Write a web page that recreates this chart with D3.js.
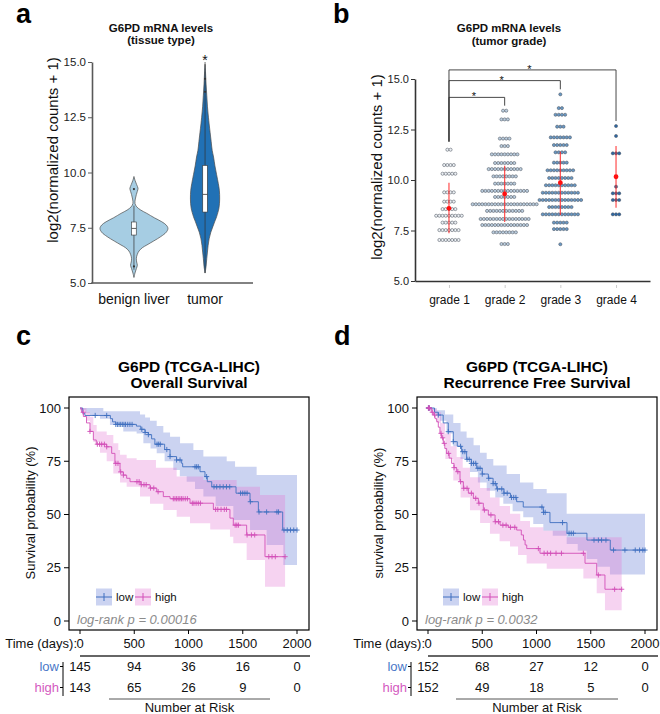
<!DOCTYPE html>
<html><head><meta charset="utf-8">
<script src="https://cdn.jsdelivr.net/npm/d3@7"></script>
<style>body{margin:0;background:#fff}</style>
</head><body>
<script>
// ================= DATA =================
// Panel a
const tissueCategories = ["benign liver", "tumor"];
const aTicks = [5, 7.5, 10, 12.5, 15];
// violin profiles: [log2 value, relative density]
const violinBenign = [[5.25,0],[5.45,0.03],[5.65,0.07],[5.8,0.1],[5.95,0.08],[6.12,0.07],[6.3,0.1],[6.45,0.15],[6.6,0.25],[6.72,0.38],[6.9,0.58],[7.1,0.79],[7.3,0.95],[7.47,1.0],[7.62,0.95],[7.77,0.82],[7.95,0.6],[8.15,0.38],[8.3,0.2],[8.45,0.08],[8.6,0.03],[8.8,0.04],[9.0,0.07],[9.15,0.1],[9.28,0.12],[9.45,0.08],[9.65,0.03],[9.82,0]];
const violinTumor = [[5.45,0],[5.75,0.03],[6.1,0.05],[6.4,0.07],[6.7,0.09],[7.0,0.12],[7.3,0.17],[7.55,0.23],[7.8,0.29],[8.0,0.34],[8.4,0.41],[8.8,0.43],[9.2,0.42],[9.5,0.39],[9.9,0.34],[10.3,0.29],[10.7,0.25],[11.0,0.21],[11.4,0.18],[11.8,0.15],[12.2,0.12],[12.5,0.1],[13.0,0.07],[13.5,0.05],[14.0,0.03],[14.5,0.015],[14.9,0]];
// [whisker low, q1, median, q3, whisker high]
const boxBenign = [5.6, 7.17, 7.47, 7.76, 8.5];
const boxTumor = [5.45, 8.21, 9.01, 10.32, 15.0];
const outBenign = [9.25, 5.75];
const outTumor = [14.24, 13.65];

// Panel b
const gradeCategories = ["grade 1", "grade 2", "grade 3", "grade 4"];
const bTicks = [5, 7.5, 10, 12.5, 15];
// [log2 value, number of samples in that bin]
const grade1Rows = [[11.5,2],[10.74,4],[10.31,5],[9.39,4],[8.93,4],[8.56,5],[8.23,9],[7.89,5],[7.52,7],[7.03,7]];
const grade2Rows = [[13.43,2],[13.0,3],[12.05,4],[11.68,3],[11.27,9],[10.84,7],[10.54,11],[10.18,8],[9.82,7],[9.46,15],[9.16,7],[8.8,21],[8.47,12],[8.07,16],[7.77,15],[7.41,8],[6.83,3]];
const grade3Rows = [[14.24,1],[13.56,2],[13.23,4],[12.64,3],[12.11,7],[11.73,5],[11.37,4],[10.86,5],[10.48,9],[10.1,8],[9.74,10],[9.37,12],[9.01,14],[8.66,8],[8.3,12],[7.89,5],[7.57,5],[6.82,1]];
const grade4Rows = [[12.67,1],[12.18,1],[11.32,3],[9.67,1],[9.34,3],[9.01,3],[8.3,3]];
const gradeMean = [8.6, 9.31, 9.87, 10.16];
const gradeLow = [7.36, 7.92, 8.27, 8.63];
const gradeHigh = [9.87, 10.71, 11.4, 11.68];
const comparisons = [["grade 1","grade 2"],["grade 1","grade 3"],["grade 1","grade 4"]];
const comparisonLabels = ["*", "*", "*"];

// Panels c/d (Kaplan-Meier)
const kmTimeTicks = [0, 500, 1000, 1500, 2000];
const kmSurvTicks = [0, 25, 50, 75, 100];
const groups = ["low", "high"];
// Overall survival
const osLowSteps = [[0,100],[25,97.5],[45,96.5],[280,95],[300,93.5],[330,92.3],[520,91.5],[560,90],[600,88.5],[630,87.5],[660,85.5],[690,83],[780,80.5],[830,77.2],[890,75.6],[937,74],[946,72.4],[1106,70.1],[1152,67.8],[1173,65.4],[1214,63],[1438,60],[1567,56],[1644,51.2],[1868,42.7]];
const osLowCensor = [140,246,330,345,360,375,390,405,420,440,460,480,570,600,630,710,725,740,800,830,890,922,1060,1075,1090,1167,1235,1260,1290,1320,1350,1380,1480,1500,1520,1540,1570,1650,1720,1815,1830,1880,1910,1940,1970,2000];
const osLowUpper = [[0,100],[215,98.5],[553,97],[600,95.5],[645,94],[707,91.5],[768,88.5],[830,86.5],[922,83.5],[1045,80.3],[1137,77.2],[1352,75],[1429,72.4],[1628,68.5]];
const osLowLower = [[0,99],[50,97.5],[92,96.5],[184,95],[276,92],[399,89],[522,88],[584,83.5],[650,81],[707,78.7],[780,75],[860,70.9],[920,68],[983,65.4],[1060,62],[1137,58.4],[1250,54],[1413,47.4],[1567,42.7],[1720,35.7],[1874,26.3]];
const osHighSteps = [[0,100],[15,98],[31,96],[60,93],[92,89],[123,85],[150,83],[246,81.8],[292,78.7],[322,74],[369,70],[400,68.5],[430,67],[461,65.4],[560,64],[645,62.4],[707,60.7],[768,58.4],[830,57.4],[1014,55.3],[1229,52.4],[1382,48.3],[1413,45],[1536,40.4],[1705,30.2]];
const osHighCensor = [30,92,160,180,200,225,246,330,350,375,400,525,545,565,590,610,650,680,720,860,875,890,905,920,935,950,970,990,1035,1050,1070,1090,1110,1250,1270,1300,1330,1350,1430,1445,1460,1540,1580,1610,1740,1770,1800,1890];
const osHighUpper = [[0,100],[60,98],[92,95.9],[123,92],[154,89],[246,87.3],[307,83.4],[353,80.3],[369,78],[430,76.4],[522,75.6],[700,72],[891,67.8],[1137,66.2],[1444,63],[1659,59.2]];
const osHighLower = [[0,99],[31,97],[60,94],[92,89],[123,84],[184,79],[246,75],[307,69.3],[369,65],[430,63],[553,58.4],[645,55],[768,52.1],[891,49],[1014,45.9],[1200,43],[1382,39.6],[1413,36.5],[1536,28.6],[1705,16.1]];
const osRiskLow = [145, 94, 36, 16, 0];
const osRiskHigh = [143, 65, 26, 9, 0];
// Recurrence free survival
const rfsLowSteps = [[0,100],[60,98],[95,96.7],[140,93],[187,88.9],[233,84.2],[270,82],[310,79.5],[356,75.9],[400,74],[449,71.7],[500,69],[556,67],[600,64.5],[633,62],[700,60],[760,58],[817,56],[878,53.5],[1063,51],[1124,46.2],[1281,41.2],[1465,38],[1680,33.3]];
const rfsLowCensor = [4,8,12,95,187,233,300,320,340,360,380,400,420,440,460,480,500,560,600,620,640,680,700,730,770,790,810,1050,1065,1080,1240,1300,1320,1340,1530,1570,1600,1640,1710,1815,1910,1950,1980,2000];
const rfsLowUpper = [[0,100],[80,99],[157,97],[233,93],[300,89],[356,86],[420,82.5],[479,79],[541,76],[602,73],[725,69],[848,65],[971,62],[1094,60],[1278,50.3]];
const rfsLowLower = [[0,99],[60,97],[110,94],[170,88],[233,82],[300,76],[387,70],[460,65],[541,61.2],[620,58],[694,55],[780,51.5],[878,48.7],[970,45.5],[1063,42.4],[1150,40],[1278,36.2],[1380,33],[1462,29.1],[1560,25.5],[1677,21.8]];
const rfsHighSteps = [[0,100],[30,98],[49,96.7],[65,95],[80,93.6],[95,91],[110,88.1],[125,86],[141,83.4],[155,81],[172,78.7],[195,76.5],[218,74],[240,72],[264,70.1],[295,65.4],[326,62.3],[372,60],[418,57.6],[464,55.3],[510,52.1],[556,49.8],[618,46.6],[664,45],[740,44],[817,42.7],[860,40.4],[880,38],[895,35.7],[910,34],[1032,31.8],[1447,27.1],[1555,21.6],[1631,14.9]];
const rfsHighCensor = [4,8,12,40,60,120,135,150,190,240,275,300,330,360,400,440,470,520,580,620,650,690,720,760,800,1017,1070,1100,1130,1180,1230,1432,1570,1720,1785];
const rfsHighUpper = [[0,100],[50,99.5],[80,98],[120,93],[157,88],[210,82],[264,77],[320,72],[387,67.5],[480,62.5],[571,58],[660,54],[756,50.3],[850,47],[940,44],[1063,42.4],[1278,39.3]];
const rfsHighLower = [[0,99],[40,97],[80,93],[110,86],[160,76],[233,66],[300,58],[387,52],[480,46],[571,41],[660,37.5],[756,35],[830,31],[909,27],[1094,24.5],[1432,20],[1555,13],[1631,5]];
const rfsRiskLow = [152, 68, 27, 12, 0];
const rfsRiskHigh = [152, 49, 18, 5, 0];

// ================= DRAWING =================
const FONT = "'Liberation Sans', Arial, Helvetica, sans-serif";
const svg = d3.select("body").append("svg").attr("width", 660).attr("height", 714)
  .style("font-family", FONT).style("display", "block");

function txt(g, x, y, s, size, opts = {}) {
  return g.append("text").attr("x", x).attr("y", y).text(s)
    .attr("font-size", size).attr("text-anchor", opts.anchor || "middle")
    .attr("font-weight", opts.bold ? "bold" : null)
    .attr("font-style", opts.italic ? "italic" : null)
    .attr("fill", opts.fill || "#111");
}

// panel letters
[["a",16,23],["b",333,23],["c",16,345],["d",334,345]].forEach(([l,x,y]) => txt(svg, x, y, l, 27, {anchor:"start", bold:true, fill:"#000"}));

// ---------- Panel a ----------
{
  const g = svg.append("g");
  const y = d3.scaleLinear().domain([5, 15]).range([283, 62]);
  const x = d3.scalePoint().domain(tissueCategories).range([92, 247]).padding(0.59);
  const w = d3.scaleLinear().domain([0, 1]).range([0, 34]);
  txt(g, 161, 32, "G6PD mRNA levels", 11.5, {bold:true});
  txt(g, 161, 44, "(tissue type)", 11.5, {bold:true});
  const profiles = [violinBenign, violinTumor];
  const boxes = [boxBenign, boxTumor];
  const outs = [outBenign, outTumor];
  const fills = ["#a6cde3", "#2171b5"];
  tissueCategories.forEach((c, i) => {
    const cx = x(c);
    const area = d3.area().curve(d3.curveCatmullRom)
      .y(d => y(d[0])).x0(d => cx - w(d[1])).x1(d => cx + w(d[1]));
    g.append("path").datum(profiles[i]).attr("d", area)
      .attr("fill", fills[i]).attr("stroke", "#4a4a4a").attr("stroke-width", 0.7);
    const b = boxes[i];
    g.append("line").attr("x1", cx).attr("x2", cx).attr("y1", y(b[0])).attr("y2", y(b[4]))
      .attr("stroke", "#333").attr("stroke-width", 0.7);
    g.append("rect").attr("x", cx - 2.3).attr("width", 4.6).attr("y", y(b[3])).attr("height", y(b[1]) - y(b[3]))
      .attr("fill", "#fff").attr("stroke", "#333").attr("stroke-width", 0.6);
    g.append("line").attr("x1", cx - 2.3).attr("x2", cx + 2.3).attr("y1", y(b[2])).attr("y2", y(b[2]))
      .attr("stroke", "#333").attr("stroke-width", 0.8);
    outs[i].forEach(v => g.append("circle").attr("cx", cx).attr("cy", y(v)).attr("r", 1.1).attr("fill", "#333"));
  });
  txt(g, x("tumor"), 65, "*", 14);
  const ax = g.append("g").attr("transform", "translate(92,0)")
    .call(d3.axisLeft(y).tickValues(aTicks).tickFormat(d3.format(".1f")).tickSize(4).tickSizeOuter(0).tickPadding(2));
  ax.select(".domain").attr("stroke", "#595959").attr("stroke-width", 1.6);
  ax.selectAll(".tick line").attr("stroke", "#595959");
  ax.selectAll(".tick text").attr("font-size", 11.5).attr("fill", "#222").attr("font-family", FONT);
  g.append("line").attr("x1", 91.2).attr("x2", 253).attr("y1", 283).attr("y2", 283).attr("stroke", "#595959").attr("stroke-width", 1.6);
  tissueCategories.forEach(c => txt(g, x(c), 304, c, 14, {fill:"#111"}));
  g.append("text").attr("transform", "translate(58,150) rotate(-90)").attr("text-anchor", "middle")
    .attr("font-size", 15).attr("fill", "#111").text("log2(normalized counts + 1)");
}

// ---------- Panel b ----------
{
  const g = svg.append("g");
  const y = d3.scaleLinear().domain([5, 15]).range([281, 79]);
  const x = d3.scalePoint().domain(gradeCategories).range([415, 650]).padding(0.61);
  txt(g, 509, 32, "G6PD mRNA levels", 11.5, {bold:true});
  txt(g, 509, 45, "(tumor grade)", 11.5, {bold:true});
  const rows = [grade1Rows, grade2Rows, grade3Rows, grade4Rows];
  const dotFill = ["#eef2f6", "#bccfe0", "#6a9ac6", "#2c68a6"];
  const pitch = 3.2;
  gradeCategories.forEach((c, i) => {
    const cx = x(c);
    rows[i].forEach(([v, n]) => {
      for (let k = 0; k < n; k++) {
        g.append("circle").attr("cx", cx + (k - (n - 1) / 2) * pitch).attr("cy", y(v)).attr("r", 1.55)
          .attr("fill", dotFill[i]).attr("stroke", "#4d5560").attr("stroke-width", 0.55);
      }
    });
    g.append("line").attr("x1", cx).attr("x2", cx).attr("y1", y(gradeLow[i])).attr("y2", y(gradeHigh[i]))
      .attr("stroke", "#ff2020").attr("stroke-opacity", 0.8).attr("stroke-width", 1.2);
    g.append("circle").attr("cx", cx).attr("cy", y(gradeMean[i])).attr("r", 2.4).attr("fill", "#ff1010");
  });
  // significance brackets
  const maxOf = i => d3.max(rows[i], r => r[0]);
  const levels = [14.09, 14.92, 15.45];
  comparisons.forEach(([a, b], j) => {
    const ia = gradeCategories.indexOf(a), ib = gradeCategories.indexOf(b);
    const x1 = x(a), x2 = x(b), yl = y(levels[j]);
    g.append("path").attr("d", `M${x1},${y(maxOf(ia) + 0.4)}V${yl}H${x2}V${y(maxOf(ib) + 0.25)}`)
      .attr("fill", "none").attr("stroke", "#333").attr("stroke-width", 0.9);
    txt(g, (x1 + x2) / 2 - 3, yl + 3, comparisonLabels[j], 11);
  });
  const ax = g.append("g").attr("transform", "translate(415,0)")
    .call(d3.axisLeft(y).tickValues(bTicks).tickFormat(d3.format(".1f")).tickSize(4).tickSizeOuter(0).tickPadding(2));
  ax.select(".domain").attr("stroke", "#333").attr("stroke-width", 1.6);
  ax.selectAll(".tick line").attr("stroke", "#333");
  ax.selectAll(".tick text").attr("font-size", 11).attr("fill", "#222").attr("font-family", FONT);
  const bx = g.append("g").attr("transform", "translate(0,281)")
    .call(d3.axisBottom(x).tickSize(3).tickSizeOuter(0).tickPadding(11));
  bx.select(".domain").attr("stroke", "#333").attr("stroke-width", 1.6);
  bx.selectAll(".tick line").attr("stroke", "#ccc").attr("transform", "translate(0,4)");
  bx.selectAll(".tick text").attr("font-size", 12).attr("fill", "#111").attr("font-family", FONT);
  g.append("text").attr("transform", "translate(382,167) rotate(-90)").attr("text-anchor", "middle")
    .attr("font-size", 15).attr("fill", "#111").text("log2(normalized counts + 1)");
}

// ---------- Panels c & d ----------
function stepVal(steps, t) {
  let v = steps[0][1];
  for (const [tt, s] of steps) { if (tt <= t) v = s; else break; }
  return v;
}
const lineCol = {low: "#3f6fbf", high: "#d34fb8"};
const bandCol = {low: "rgba(98,121,212,0.33)", high: "rgba(229,121,212,0.33)"};
const textCol = {low: "#4a78c8", high: "#d45ac0"};

function drawKM(o) {
  const g = svg.append("g");
  const x = d3.scaleLinear().domain([0, 2000]).range(o.xr);
  const y = d3.scaleLinear().domain([0, 100]).range([621, 408]);
  const [bl, br] = o.box, bt = 397, bb = 630;
  const cx = (bl + br) / 2;
  txt(g, cx, 372, "G6PD (TCGA-LIHC)", 15.5, {bold:true, fill:"#000"});
  txt(g, cx, 388, o.title, 15.5, {bold:true, fill:"#000"});
  // bands
  groups.forEach(k => {
    const d = o.data[k];
    const end = d3.max(d.censor);
    const times = Array.from(new Set([...d.upper.map(p => p[0]), ...d.lower.map(p => p[0]), end])).sort((a, b) => a - b);
    const pts = times.map(t => ({t, u: stepVal(d.upper, t), l: stepVal(d.lower, t)}));
    g.append("path").datum(pts)
      .attr("d", d3.area().curve(d3.curveStepAfter).x(p => x(p.t)).y0(p => y(p.l)).y1(p => y(p.u)))
      .attr("fill", bandCol[k]);
  });
  groups.forEach(k => {
    const d = o.data[k];
    const end = d3.max(d.censor);
    const pts = [...d.steps, [end, d.steps[d.steps.length - 1][1]]];
    g.append("path").datum(pts).attr("d", d3.line().curve(d3.curveStepAfter).x(p => x(p[0])).y(p => y(p[1])))
      .attr("fill", "none").attr("stroke", lineCol[k]).attr("stroke-width", 0.9);
    d.censor.forEach(t => {
      const px = x(t), py = y(stepVal(d.steps, t));
      g.append("path").attr("d", `M${px - 2.6},${py}H${px + 2.6}M${px},${py - 2.6}V${py + 2.6}`)
        .attr("stroke", lineCol[k]).attr("stroke-width", 0.9);
    });
  });
  // legend
  const ly = 597;
  groups.forEach((k, i) => {
    const lx = o.legX[i];
    g.append("rect").attr("x", lx).attr("y", ly - 8.5).attr("width", 16).attr("height", 17).attr("fill", bandCol[k]);
    g.append("path").attr("d", `M${lx},${ly}H${lx + 16}M${lx + 8},${ly - 4}V${ly + 4}`).attr("stroke", lineCol[k]).attr("stroke-width", 1);
    txt(g, lx + 20, ly + 4, k, 11.5, {anchor:"start", fill:"#111"});
  });
  txt(g, bl + 8, 624, o.pText, 13, {anchor:"start", italic:true, fill:"#8c8c8c"});
  // box
  g.append("rect").attr("x", bl).attr("y", bt).attr("width", br - bl).attr("height", bb - bt)
    .attr("fill", "none").attr("stroke", "#000").attr("stroke-width", 1.2);
  // y axis
  kmSurvTicks.forEach(v => {
    g.append("line").attr("x1", bl - 5).attr("x2", bl).attr("y1", y(v)).attr("y2", y(v)).attr("stroke", "#000");
    txt(g, bl - 8, y(v) + 4.5, String(v), 13, {anchor:"end", fill:"#111"});
  });
  g.append("text").attr("transform", `translate(${o.ylabX},513) rotate(-90)`).attr("text-anchor", "middle")
    .attr("font-size", 13).attr("fill", "#111").text(o.ylab);
  // x axis
  kmTimeTicks.forEach(t => {
    g.append("line").attr("x1", x(t)).attr("x2", x(t)).attr("y1", bb).attr("y2", bb + 4).attr("stroke", "#000");
    txt(g, x(t), 648, String(t), 13, {fill:"#111"});
  });
  txt(g, x(0) - 3, 648, "Time (days):", 13, {anchor:"end", fill:"#111"});
  // risk table
  g.append("line").attr("x1", x(0)).attr("x2", br + 1).attr("y1", 656).attr("y2", 656).attr("stroke", "#333").attr("stroke-width", 1.4);
  const rowY = {low: 671, high: 692};
  const ax = x(0) - 17;
  g.append("line").attr("x1", ax).attr("x2", ax).attr("y1", 662).attr("y2", 696).attr("stroke", "#000").attr("stroke-width", 1);
  groups.forEach(k => {
    g.append("line").attr("x1", ax - 3).attr("x2", ax).attr("y1", rowY[k] - 4.5).attr("y2", rowY[k] - 4.5).attr("stroke", "#000");
    txt(g, ax - 4, rowY[k], k, 13, {anchor:"end", fill:textCol[k]});
    o.risk[k].forEach((n, i) => txt(g, x(kmTimeTicks[i]), rowY[k], String(n), 13, {fill:"#111"}));
  });
  g.append("line").attr("x1", o.narX[0]).attr("x2", o.narX[1]).attr("y1", 699).attr("y2", 699).attr("stroke", "#555").attr("stroke-width", 1);
  txt(g, (o.narX[0] + o.narX[1]) / 2, 712, "Number at Risk", 13, {fill:"#111"});
}

drawKM({
  xr: [80, 297], box: [69, 309], title: "Overall Survival", ylab: "Survival probability (%)", ylabX: 35,
  pText: "log-rank p = 0.00016", legX: [96, 135], narX: [109, 270],
  data: {
    low: {steps: osLowSteps, censor: osLowCensor, upper: osLowUpper, lower: osLowLower},
    high: {steps: osHighSteps, censor: osHighCensor, upper: osHighUpper, lower: osHighLower}
  },
  risk: {low: osRiskLow, high: osRiskHigh}
});
drawKM({
  xr: [428, 645], box: [417, 657], title: "Recurrence Free Survival", ylab: "survival probability (%)", ylabX: 383,
  pText: "log-rank p = 0.0032", legX: [443, 482], narX: [456, 618],
  data: {
    low: {steps: rfsLowSteps, censor: rfsLowCensor, upper: rfsLowUpper, lower: rfsLowLower},
    high: {steps: rfsHighSteps, censor: rfsHighCensor, upper: rfsHighUpper, lower: rfsHighLower}
  },
  risk: {low: rfsRiskLow, high: rfsRiskHigh}
});
</script>
</body></html>
